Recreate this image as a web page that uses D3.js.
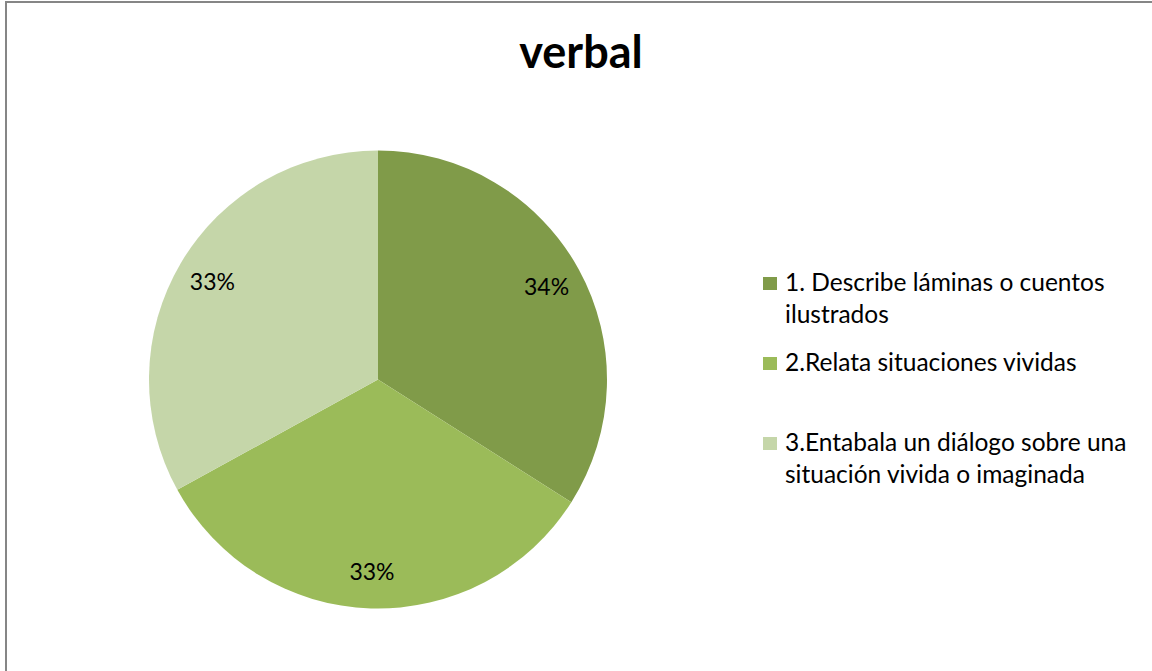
<!DOCTYPE html>
<html>
<head>
<meta charset="utf-8">
<script src="https://cdn.jsdelivr.net/npm/d3@7"></script>
<style>
  html, body { margin: 0; padding: 0; background: #fff; }
  svg { display: block; font-family: Lato, "Open Sans", sans-serif; }
</style>
</head>
<body>
<div id="chart"></div>
<script>
// data
const categories = [
  '1. Describe láminas o cuentos ilustrados',
  '2.Relata situaciones vividas',
  '3.Entabala un diálogo sobre una situación vivida o imaginada'
];
const values = [34, 33, 33];
const legendLines = [
  ['1. Describe láminas o cuentos', 'ilustrados'],
  ['2.Relata situaciones vividas'],
  ['3.Entabala un diálogo sobre una', 'situación vivida o imaginada']
];
const colors = ['#809b49', '#9bbb59', '#c5d6a9'];
const title = 'verbal';

const width = 1152;
const height = 671;
const cx = 378;
const cy = 379.5;
const radius = 229;

const svg = d3.select('#chart').append('svg')
  .attr('width', width)
  .attr('height', height);

// chart border (right and bottom edges fall outside the picture)
svg.append('rect')
  .attr('x', 6)
  .attr('y', 2)
  .attr('width', width + 20)
  .attr('height', height + 20)
  .attr('fill', '#fff')
  .attr('stroke', '#868686')
  .attr('stroke-width', 2);

// title
svg.append('text')
  .attr('x', 581)
  .attr('y', 68)
  .attr('text-anchor', 'middle')
  .attr('font-size', '45px')
  .attr('font-weight', 'bold')
  .attr('fill', '#000')
  .text(title);

// pie
const pie = d3.pie().sort(null).value(d => d)(values);
const arc = d3.arc().innerRadius(0).outerRadius(radius);
const labelArc = d3.arc().innerRadius(radius * 0.84).outerRadius(radius * 0.84);
const total = d3.sum(values);

const pieGroup = svg.append('g').attr('transform', `translate(${cx},${cy})`);
pieGroup.selectAll('path')
  .data(pie)
  .join('path')
  .attr('d', arc)
  .attr('fill', (d, i) => colors[i]);

pieGroup.selectAll('text')
  .data(pie)
  .join('text')
  .attr('transform', d => {
    const [x, y] = labelArc.centroid(d);
    return `translate(${x},${y})`;
  })
  .attr('text-anchor', 'middle')
  .attr('dy', '0.35em')
  .attr('font-size', '23px')
  .attr('fill', '#000')
  .text(d => `${Math.round(d.value / total * 100)}%`);

// legend
const legendY = [291, 371, 451];
const legend = svg.append('g').attr('class', 'legend');
legendLines.forEach((lines, i) => {
  legend.append('rect')
    .attr('x', 763)
    .attr('y', legendY[i] - 14)
    .attr('width', 14)
    .attr('height', 13)
    .attr('fill', colors[i]);
  const t = legend.append('text')
    .attr('x', 785)
    .attr('y', legendY[i])
    .attr('font-size', '24.5px')
    .attr('fill', '#000');
  lines.forEach((line, j) => {
    t.append('tspan')
      .attr('x', 785)
      .attr('dy', j === 0 ? 0 : 32)
      .text(line);
  });
});
</script>
</body>
</html>
